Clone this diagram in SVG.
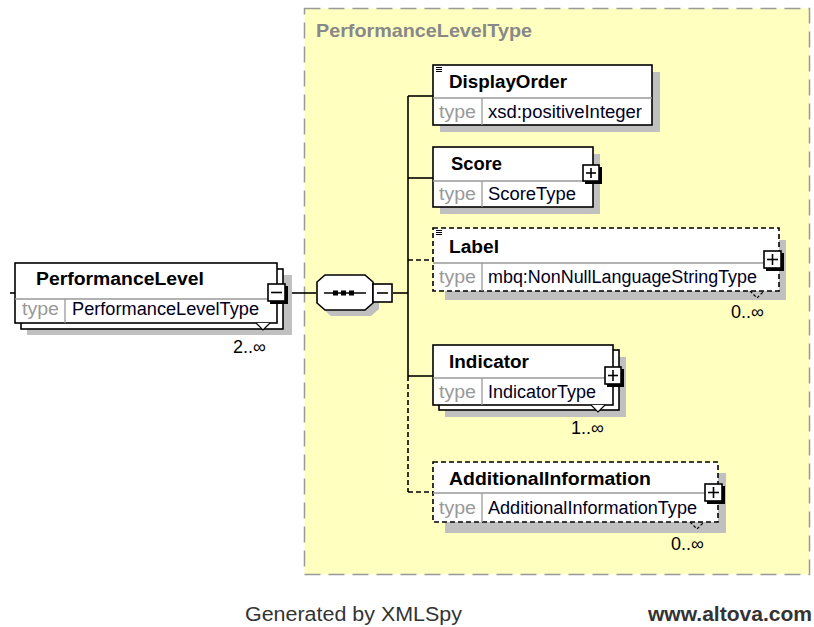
<svg xmlns="http://www.w3.org/2000/svg" width="814" height="627" viewBox="0 0 814 627">
<style>
.nm{font-family:"Liberation Sans",Arial,sans-serif;font-size:18px;font-weight:bold;fill:#000}
.ty{font-family:"Liberation Sans",Arial,sans-serif;font-size:18px;fill:#999}
.tv{font-family:"Liberation Sans",Arial,sans-serif;font-size:18px;fill:#000020}
.card{font-family:"Liberation Sans",Arial,sans-serif;font-size:18px;fill:#000}
.box{fill:#fff;stroke:#000;stroke-width:1.6}
.dbox{fill:#fff;stroke:#000;stroke-width:1.6;stroke-dasharray:5,3}
.sh{fill:#c0c0c0}
.div{stroke:#999;stroke-width:1.3}
.ln{stroke:#000;stroke-width:1.6;fill:none}
.dl{stroke:#000;stroke-width:1.6;fill:none;stroke-dasharray:5,3}
.btn{fill:#fff;stroke:#000;stroke-width:1.6}
.bsh{fill:#000}
</style>
<rect x="0" y="0" width="814" height="627" fill="#fff"/>
<g id="complexType">
<rect x="304.5" y="8.5" width="505" height="566" fill="#ffffc0" stroke="#999" stroke-width="1.5" stroke-dasharray="16,8"/>
<text x="316" y="37" font-family="Liberation Sans,Arial,sans-serif" font-size="19" font-weight="bold" fill="#888" textLength="216" lengthAdjust="spacingAndGlyphs">PerformanceLevelType</text>
</g>
<g id="connectors">
<line class="ln" x1="10" y1="293" x2="15" y2="293"/>
<line class="ln" x1="287" y1="293" x2="316" y2="293"/>
<line class="ln" x1="393" y1="293" x2="408" y2="293"/>
<line class="ln" x1="408" y1="96" x2="408" y2="376"/>
<line class="dl" x1="408" y1="376" x2="408" y2="492"/>
<line class="ln" x1="408" y1="96" x2="433" y2="96"/>
<line class="ln" x1="408" y1="178" x2="433" y2="178"/>
<line class="dl" x1="408" y1="260" x2="433" y2="260"/>
<line class="ln" x1="408" y1="376" x2="433" y2="376"/>
<line class="dl" x1="408" y1="492" x2="433" y2="492"/>
</g>
<g id="PerformanceLevel">
<rect class="sh" x="27" y="275" width="265" height="60"/>
<rect class="box" x="21" y="269" width="262" height="60"/>
<rect class="box" x="15" y="263" width="262" height="60"/>
<line class="div" x1="15" y1="299" x2="277" y2="299"/>
<line class="div" x1="65" y1="299" x2="65" y2="323"/>
<text class="nm" x="36" y="285" textLength="168" lengthAdjust="spacingAndGlyphs">PerformanceLevel</text>
<text class="ty" x="22" y="315" textLength="37" lengthAdjust="spacingAndGlyphs">type</text>
<text class="tv" x="72" y="315" textLength="187" lengthAdjust="spacingAndGlyphs">PerformanceLevelType</text>
<path d="M256 323 L263 330 L270 323" fill="#fff" stroke="#000" stroke-width="1.2"/>
<rect class="bsh" x="270" y="286" width="18" height="18"/>
<rect class="btn" x="268" y="284" width="17" height="17"/>
<line class="ln" x1="271" y1="292.5" x2="282" y2="292.5"/>
<text class="card" x="233" y="353">2..∞</text>
</g>
<g id="sequence">
<path class="sh" d="M331 281 L371 281 L379 288 L379 309 L371 316 L331 316 L323 309 L323 288 Z"/>
<path d="M325 275 L365 275 L373 282 L373 303 L365 310 L325 310 L317 303 L317 282 Z" fill="#fff" stroke="#000" stroke-width="1.6"/>
<line class="ln" x1="324" y1="293" x2="366" y2="293"/>
<rect x="333" y="290.5" width="5" height="5" fill="#000"/>
<rect x="341" y="290.5" width="5" height="5" fill="#000"/>
<rect x="349" y="290.5" width="5" height="5" fill="#000"/>
<rect class="btn" x="373" y="284" width="19" height="18"/>
<line class="ln" x1="377" y1="293" x2="388" y2="293"/>
</g>
<g id="DisplayOrder">
<rect class="sh" x="440" y="72" width="220" height="60"/>
<rect class="box" x="433" y="65" width="219" height="60"/>
<line class="div" x1="433" y1="98" x2="652" y2="98"/>
<line class="div" x1="482" y1="98" x2="482" y2="125"/>
<path d="M436 67.5h6M436 69.5h6M436 71.5h6" stroke="#000" stroke-width="1"/>
<text class="nm" x="449" y="88" textLength="118" lengthAdjust="spacingAndGlyphs">DisplayOrder</text>
<text class="ty" x="439" y="118" textLength="37" lengthAdjust="spacingAndGlyphs">type</text>
<text class="tv" x="488" y="118" textLength="154" lengthAdjust="spacingAndGlyphs">xsd:positiveInteger</text>
</g>
<g id="Score">
<rect class="sh" x="440" y="154" width="160" height="60"/>
<rect class="box" x="433" y="147" width="160" height="60"/>
<line class="div" x1="433" y1="181" x2="593" y2="181"/>
<line class="div" x1="482" y1="181" x2="482" y2="207"/>
<text class="nm" x="451" y="170" textLength="51" lengthAdjust="spacingAndGlyphs">Score</text>
<text class="ty" x="439" y="200" textLength="37" lengthAdjust="spacingAndGlyphs">type</text>
<text class="tv" x="488" y="200" textLength="88" lengthAdjust="spacingAndGlyphs">ScoreType</text>
<rect class="bsh" x="585" y="167" width="17" height="17"/>
<rect class="btn" x="583" y="165" width="16" height="16"/>
<line class="ln" x1="586" y1="173" x2="596" y2="173"/>
<line class="ln" x1="591" y1="168" x2="591" y2="178"/>
</g>
<g id="Label">
<rect class="sh" x="445" y="240" width="341" height="60"/>
<rect class="dbox" x="433" y="228" width="346" height="63"/>
<line class="div" x1="433" y1="263" x2="779" y2="263"/>
<line class="div" x1="482" y1="263" x2="482" y2="291"/>
<path d="M436 230.5h6M436 232.5h6M436 234.5h6" stroke="#000" stroke-width="1"/>
<text class="nm" x="449" y="253" textLength="50" lengthAdjust="spacingAndGlyphs">Label</text>
<text class="ty" x="439" y="283" textLength="37" lengthAdjust="spacingAndGlyphs">type</text>
<text class="tv" x="488" y="283" textLength="269" lengthAdjust="spacingAndGlyphs">mbq:NonNullLanguageStringType</text>
<path d="M750 291 L757 298 L764 291" fill="none" stroke="#000" stroke-width="1.2" stroke-dasharray="3,2"/>
<rect class="bsh" x="766" y="253" width="18" height="18"/>
<rect class="btn" x="764" y="251" width="17" height="17"/>
<line class="ln" x1="767" y1="259.5" x2="778" y2="259.5"/>
<line class="ln" x1="772.5" y1="254" x2="772.5" y2="265"/>
<text class="card" x="731" y="318">0..∞</text>
</g>
<g id="Indicator">
<rect class="sh" x="445" y="357" width="181" height="60"/>
<rect class="box" x="439" y="350" width="180" height="60"/>
<rect class="box" x="433" y="345" width="180" height="60"/>
<line class="div" x1="433" y1="378" x2="613" y2="378"/>
<line class="div" x1="482" y1="378" x2="482" y2="405"/>
<text class="nm" x="449" y="368" textLength="80" lengthAdjust="spacingAndGlyphs">Indicator</text>
<text class="ty" x="439" y="398" textLength="37" lengthAdjust="spacingAndGlyphs">type</text>
<text class="tv" x="488" y="398" textLength="108" lengthAdjust="spacingAndGlyphs">IndicatorType</text>
<path d="M591 405 L598 412 L605 405" fill="#fff" stroke="#000" stroke-width="1.2"/>
<rect class="bsh" x="607" y="369" width="17" height="18"/>
<rect class="btn" x="605" y="367" width="16" height="17"/>
<line class="ln" x1="608" y1="375.5" x2="618" y2="375.5"/>
<line class="ln" x1="613" y1="370" x2="613" y2="381"/>
<text class="card" x="571" y="434">1..∞</text>
</g>
<g id="AdditionalInformation">
<rect class="sh" x="445" y="473" width="281" height="60"/>
<rect class="dbox" x="433" y="462" width="285" height="60"/>
<line class="div" x1="433" y1="493" x2="718" y2="493"/>
<line class="div" x1="482" y1="493" x2="482" y2="522"/>
<text class="nm" x="449" y="485" textLength="202" lengthAdjust="spacingAndGlyphs">AdditionalInformation</text>
<text class="ty" x="439" y="514" textLength="37" lengthAdjust="spacingAndGlyphs">type</text>
<text class="tv" x="488" y="514" textLength="209" lengthAdjust="spacingAndGlyphs">AdditionalInformationType</text>
<path d="M690 522 L697 529 L704 522" fill="none" stroke="#000" stroke-width="1.2" stroke-dasharray="3,2"/>
<rect class="bsh" x="707" y="486" width="18" height="18"/>
<rect class="btn" x="705" y="484" width="17" height="17"/>
<line class="ln" x1="708" y1="492.5" x2="719" y2="492.5"/>
<line class="ln" x1="713.5" y1="487" x2="713.5" y2="498"/>
<text class="card" x="671" y="550">0..∞</text>
</g>
<g id="footer">
<text x="245" y="621" font-family="Liberation Sans,Arial,sans-serif" font-size="20" fill="#333" textLength="217" lengthAdjust="spacingAndGlyphs">Generated by XMLSpy</text>
<text x="648" y="621" font-family="Liberation Sans,Arial,sans-serif" font-size="20" font-weight="bold" fill="#333" textLength="164" lengthAdjust="spacingAndGlyphs">www.altova.com</text>
</g>
</svg>
